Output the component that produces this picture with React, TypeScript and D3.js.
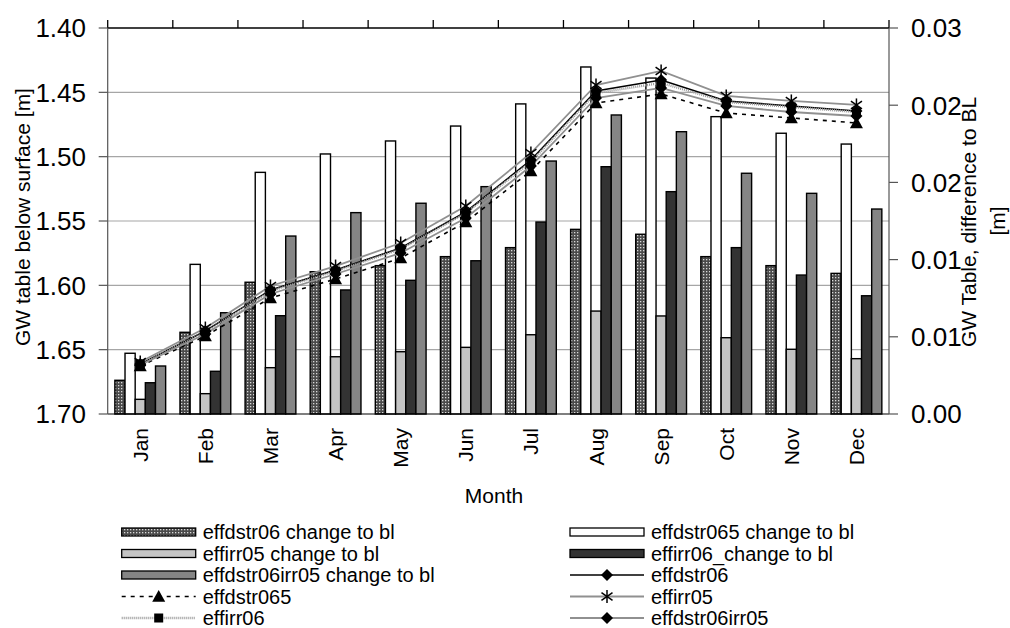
import React from 'react';
import * as d3 from 'd3';

const months = ['Jan', 'Feb', 'Mar', 'Apr', 'May', 'Jun', 'Jul', 'Aug', 'Sep', 'Oct', 'Nov', 'Dec'];

// Bar series: change to baseline [m] (right axis)
const effdstr06Change = [0.00262, 0.00635, 0.01024, 0.01106, 0.01153, 0.01223, 0.01293, 0.01435, 0.01397, 0.01223, 0.01153, 0.01093];
const effdstr065Change = [0.00472, 0.01163, 0.01878, 0.02021, 0.02122, 0.02238, 0.0241, 0.02697, 0.02611, 0.02311, 0.02182, 0.02098];
const effirr05Change = [0.00114, 0.00158, 0.0036, 0.00445, 0.00484, 0.00518, 0.00616, 0.008, 0.00762, 0.00593, 0.00503, 0.0043];
const effirr06Change = [0.00243, 0.00332, 0.00764, 0.00964, 0.01039, 0.01191, 0.01492, 0.01922, 0.01728, 0.01293, 0.0108, 0.00919];
const effdstr06irr05Change = [0.00373, 0.00787, 0.01383, 0.01565, 0.01638, 0.01767, 0.01966, 0.02324, 0.02194, 0.01871, 0.01715, 0.01593];

// Line series: GW table below surface [m] (left axis)
const effdstr06 = [1.6611, 1.6355, 1.6036, 1.5881, 1.571, 1.543, 1.5026, 1.449, 1.4404, 1.4567, 1.4606, 1.4645];
const effdstr065 = [1.6627, 1.6394, 1.6098, 1.5951, 1.5788, 1.5508, 1.5111, 1.4583, 1.4513, 1.4661, 1.4699, 1.4738];
const effirr05 = [1.6596, 1.6332, 1.6005, 1.585, 1.5671, 1.5383, 1.4972, 1.4443, 1.4334, 1.4528, 1.4567, 1.4598];
const effirr06 = [1.6611, 1.6363, 1.6044, 1.5889, 1.5718, 1.5438, 1.5041, 1.4505, 1.4427, 1.4575, 1.4614, 1.4653];
const effdstr06irr05 = [1.6619, 1.6378, 1.6067, 1.5912, 1.5749, 1.5477, 1.5073, 1.4544, 1.4466, 1.4606, 1.4653, 1.4684];

const leftTicks = [1.4, 1.45, 1.5, 1.55, 1.6, 1.65, 1.7];
const rightTicks = [0, 0.006, 0.012, 0.018, 0.024, 0.03];

const FONT = '"Liberation Sans", Arial, Helvetica, sans-serif';

type BarSer = { key: string; label: string; values: number[]; fill: string };
type LineSer = { key: string; label: string; values: number[]; stroke: string; width: number; dash?: string; marker: string };

const barSeries: BarSer[] = [
  { key: 'b1', label: 'effdstr06 change to bl', values: effdstr06Change, fill: 'url(#dotpat)' },
  { key: 'b2', label: 'effdstr065 change to bl', values: effdstr065Change, fill: '#ffffff' },
  { key: 'b3', label: 'effirr05 change to bl', values: effirr05Change, fill: '#c4c4c4' },
  { key: 'b4', label: 'effirr06_change to bl', values: effirr06Change, fill: '#333333' },
  { key: 'b5', label: 'effdstr06irr05 change to bl', values: effdstr06irr05Change, fill: '#858585' },
];

const lineSeries: LineSer[] = [
  { key: 'l1', label: 'effdstr06', values: effdstr06, stroke: '#000', width: 1.6, marker: 'diamond' },
  { key: 'l2', label: 'effdstr065', values: effdstr065, stroke: '#000', width: 1.6, dash: '4,5', marker: 'triangle' },
  { key: 'l3', label: 'effirr05', values: effirr05, stroke: '#909090', width: 1.8, marker: 'asterisk' },
  { key: 'l4', label: 'effirr06', values: effirr06, stroke: '#9a9a9a', width: 2.4, dash: '1,1', marker: 'square' },
  { key: 'l5', label: 'effdstr06irr05', values: effdstr06irr05, stroke: '#909090', width: 1.8, marker: 'diamond' },
];

const legendItems: { kind: 'bar' | 'line'; idx: number }[] = [
  { kind: 'bar', idx: 0 }, { kind: 'bar', idx: 1 },
  { kind: 'bar', idx: 2 }, { kind: 'bar', idx: 3 },
  { kind: 'bar', idx: 4 }, { kind: 'line', idx: 0 },
  { kind: 'line', idx: 1 }, { kind: 'line', idx: 2 },
  { kind: 'line', idx: 3 }, { kind: 'line', idx: 4 },
];

function Marker({ type, x, y }: { type: string; x: number; y: number }) {
  if (type === 'diamond') {
    const r = 6;
    return <path d={`M${x},${y - r}L${x + r},${y}L${x},${y + r}L${x - r},${y}Z`} fill="#000" />;
  }
  if (type === 'triangle') {
    const r = 6.5;
    return <path d={`M${x},${y - r}L${x + r},${y + r * 0.8}L${x - r},${y + r * 0.8}Z`} fill="#000" />;
  }
  if (type === 'square') {
    const r = 4.5;
    return <rect x={x - r} y={y - r} width={2 * r} height={2 * r} fill="#000" />;
  }
  // asterisk
  const r = 6.5;
  return (
    <g stroke="#000" strokeWidth={1.5}>
      <line x1={x} y1={y - r} x2={x} y2={y + r} />
      <line x1={x - r * 0.85} y1={y - r * 0.6} x2={x + r * 0.85} y2={y + r * 0.6} />
      <line x1={x - r * 0.85} y1={y + r * 0.6} x2={x + r * 0.85} y2={y - r * 0.6} />
    </g>
  );
}

export default function App() {
  const L = 107.7, R = 889, T = 28, B = 414;

  const x0 = d3.scaleBand<string>().domain(months).range([L, R]).paddingInner(0.22).paddingOuter(0.11);
  const x1 = d3.scaleBand<string>().domain(barSeries.map((s) => s.key)).range([0, x0.bandwidth()]);
  const yL = d3.scaleLinear().domain([1.4, 1.7]).range([T, B]);
  const yR = d3.scaleLinear().domain([0, 0.03]).range([B, T]);
  const fmt2 = d3.format('.2f');
  const step = x0.step();
  const cx = (m: string) => (x0(m) as number) + x0.bandwidth() / 2;

  const lineGen = (vals: number[]) =>
    d3.line<number>().x((_, i) => cx(months[i])).y((v) => yL(v))(vals) as string;

  const legCols = [121.7, 570];
  const legRows = [532, 553.5, 575, 596.5, 618];
  const swW = 74;

  return (
    <svg width={1010} height={628} style={{ position: 'absolute', left: 0, top: 0, display: 'block', background: '#fff' }} fontFamily={FONT}>
      <defs>
        <pattern id="dotpat" width={3} height={3} patternUnits="userSpaceOnUse">
          <rect width={3} height={3} fill="#4a4a4a" />
          <rect x={1} y={1} width={1.3} height={1.3} fill="#d8d8d8" />
        </pattern>
      </defs>
      <rect width={1010} height={628} fill="#fff" />

      {/* gridlines */}
      {leftTicks.slice(1, -1).map((t) => (
        <line key={t} x1={L} x2={R} y1={yL(t)} y2={yL(t)} stroke="#a6a6a6" strokeWidth={1.2} />
      ))}

      {/* bars */}
      {months.map((m, i) => (
        <g key={m}>
          {barSeries.map((s) => {
            const x = (x0(m) as number) + (x1(s.key) as number);
            const y = yR(s.values[i]);
            return (
              <rect key={s.key} x={x} y={y} width={x1.bandwidth()} height={B - y} fill={s.fill} stroke="#000" strokeWidth={1.4} />
            );
          })}
        </g>
      ))}

      {/* lines */}
      {lineSeries.map((s) => (
        <path key={s.key} d={lineGen(s.values)} fill="none" stroke={s.stroke} strokeWidth={s.width} strokeDasharray={s.dash} />
      ))}
      {lineSeries.map((s) => (
        <g key={s.key + 'm'}>
          {s.values.map((v, i) => (
            <Marker key={i} type={s.marker} x={cx(months[i])} y={yL(v)} />
          ))}
        </g>
      ))}

      {/* axes frame */}
      <line x1={L} x2={R} y1={B} y2={B} stroke="#000" strokeWidth={1.2} />
      <line x1={L} x2={R} y1={T} y2={T} stroke="#000" strokeWidth={1.6} />
      {d3.range(13).map((i) => (
        <line key={i} x1={L + i * step} x2={L + i * step} y1={T} y2={T - 8} stroke="#000" strokeWidth={1.3} />
      ))}
      <line x1={L} x2={L} y1={T} y2={B} stroke="#555" strokeWidth={1.2} />
      <line x1={R} x2={R} y1={T} y2={B} stroke="#555" strokeWidth={1.2} />

      {/* left axis ticks and labels */}
      {leftTicks.map((t) => (
        <g key={t}>
          <line x1={L - 9} x2={L} y1={yL(t)} y2={yL(t)} stroke="#555" strokeWidth={1.2} />
          <text x={86} y={yL(t)} dy="0.36em" textAnchor="end" fontSize={26} fill="#000">{fmt2(t)}</text>
        </g>
      ))}

      {/* right axis ticks and labels */}
      {rightTicks.map((t) => (
        <g key={t}>
          <line x1={R} x2={R + 9} y1={yR(t)} y2={yR(t)} stroke="#555" strokeWidth={1.2} />
          <text x={911} y={yR(t)} dy="0.36em" textAnchor="start" fontSize={26} fill="#000">{fmt2(t)}</text>
        </g>
      ))}

      {/* month labels */}
      {months.map((m) => (
        <text key={m} transform={`translate(${cx(m)},428) rotate(-90)`} dy="0.36em" textAnchor="end" fontSize={21} fill="#000">{m}</text>
      ))}

      {/* axis titles */}
      <text transform="translate(22,217) rotate(-90)" dy="0.36em" textAnchor="middle" fontSize={21} fill="#000">GW table below surface [m]</text>
      <text transform="translate(968,222) rotate(-90)" dy="0.36em" textAnchor="middle" fontSize={21} fill="#000">GW Table, difference to BL</text>
      <text transform="translate(997,221) rotate(-90)" dy="0.36em" textAnchor="middle" fontSize={21} fill="#000">[m]</text>
      <text x={494} y={503} textAnchor="middle" fontSize={21} fill="#000">Month</text>

      {/* legend */}
      {legendItems.map((it, k) => {
        const col = k % 2;
        const row = Math.floor(k / 2);
        const x = legCols[col];
        const y = legRows[row];
        if (it.kind === 'bar') {
          const s = barSeries[it.idx];
          return (
            <g key={k}>
              <rect x={x} y={y - 4} width={swW} height={8} fill={s.fill} stroke="#000" strokeWidth={1.3} />
              <text x={x + swW + 7} y={y} dy="0.36em" fontSize={20} fill="#000">{s.label}</text>
            </g>
          );
        }
        const s = lineSeries[it.idx];
        return (
          <g key={k}>
            <line x1={x} x2={x + swW} y1={y} y2={y} stroke={s.stroke} strokeWidth={s.width} strokeDasharray={s.dash} />
            <Marker type={s.marker} x={x + swW / 2} y={y} />
            <text x={x + swW + 7} y={y} dy="0.36em" fontSize={20} fill="#000">{s.label}</text>
          </g>
        );
      })}
    </svg>
  );
}
